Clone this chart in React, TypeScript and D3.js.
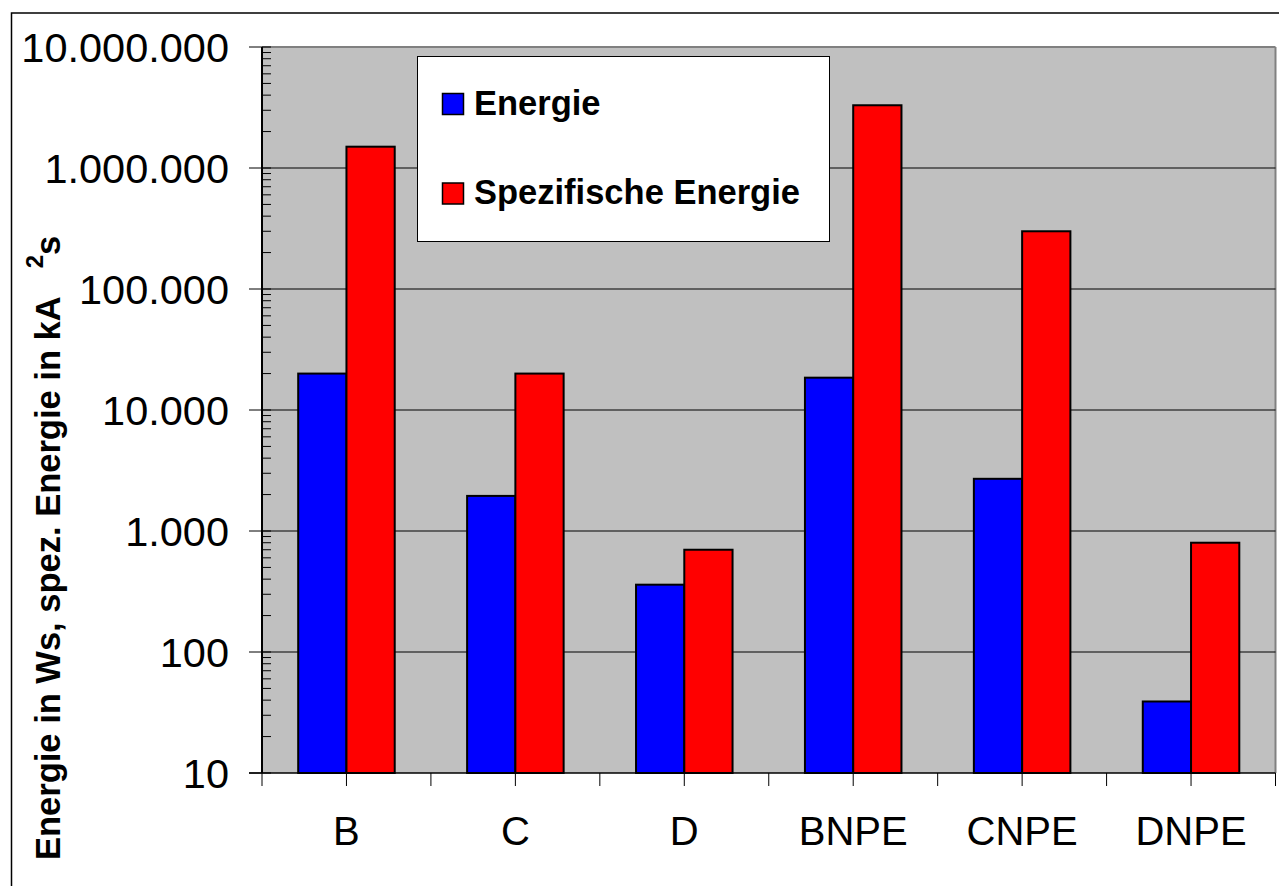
import React from "react";
import * as d3 from "d3";

const categories = ["B", "C", "D", "BNPE", "CNPE", "DNPE"];
const energie = [20000, 1950, 360, 18500, 2700, 39];
const spezEnergie = [1500000, 20000, 700, 3300000, 300000, 800];
const seriesNames = ["Energie", "Spezifische Energie"];
const seriesColors = ["#0000FF", "#FF0000"];
const yTicks = [10, 100, 1000, 10000, 100000, 1000000, 10000000];

const W = 1279;
const H = 886;
const plot = { left: 262, right: 1275.5, top: 47, bottom: 773 };

const de = d3.formatLocale({ decimal: ",", thousands: ".", grouping: [3], currency: ["", "€"] });
const fmt = de.format(",d");

export default function App() {
  const y = d3.scaleLog().domain([10, 1e7]).range([plot.bottom, plot.top]);
  const x = d3.scaleBand().domain(categories).range([plot.left, plot.right]).paddingInner(0).paddingOuter(0);
  const cw = x.bandwidth();
  const barW = cw / 3.5;
  const series = [energie, spezEnergie];

  const minor: number[] = [];
  for (let e = 1; e < 7; e++) {
    for (let k = 2; k <= 9; k++) minor.push(k * Math.pow(10, e));
  }
  const xTicks: number[] = [];
  for (let i = 0; i <= categories.length * 2; i++) xTicks.push(plot.left + (i * cw) / 2);

  const font = "Arial, 'Liberation Sans', sans-serif";

  return (
    <svg
      width={W}
      height={H}
      style={{ position: "fixed", left: 0, top: 0, background: "#fff" }}
      fontFamily={font}
    >
      <rect x={0} y={0} width={W} height={H} fill="#fff" />
      {/* outer frame */}
      <rect x={11.5} y={13} width={W + 20} height={H + 20} fill="none" stroke="#000" strokeWidth={1.5} />
      {/* plot area */}
      <rect
        x={plot.left}
        y={plot.top}
        width={plot.right - plot.left}
        height={plot.bottom - plot.top}
        fill="#C0C0C0"
      />
      <line x1={plot.left} x2={plot.right} y1={plot.top} y2={plot.top} stroke="#808080" strokeWidth={2} />
      <line x1={plot.right} x2={plot.right} y1={plot.top} y2={plot.bottom} stroke="#808080" strokeWidth={2} />
      {/* gridlines */}
      {yTicks.slice(1, -1).map((t) => (
        <line key={"g" + t} x1={plot.left} x2={plot.right} y1={y(t)} y2={y(t)} stroke="#000" strokeWidth={1} />
      ))}
      {/* bars */}
      {categories.map((c, i) =>
        series.map((s, j) => {
          const cx = (x(c) as number) + cw / 2;
          const bx = cx - barW + j * barW;
          const top = y(s[i]);
          return (
            <rect
              key={c + j}
              x={bx}
              y={top}
              width={barW}
              height={plot.bottom - top}
              fill={seriesColors[j]}
              stroke="#000"
              strokeWidth={2}
            />
          );
        })
      )}
      {/* y axis */}
      <line x1={plot.left} x2={plot.left} y1={plot.top} y2={plot.bottom} stroke="#000" strokeWidth={2} />
      {minor.map((t) => (
        <line key={"m" + t} x1={plot.left} x2={plot.left + 9} y1={y(t)} y2={y(t)} stroke="#000" strokeWidth={1} />
      ))}
      {yTicks.map((t) => (
        <g key={"t" + t}>
          <line x1={plot.left - 13} x2={plot.left + 9} y1={y(t)} y2={y(t)} stroke="#000" strokeWidth={1} />
          <text x={229} y={y(t)} dy="0.36em" textAnchor="end" fontSize={41.5} fill="#000">
            {fmt(t)}
          </text>
        </g>
      ))}
      {/* x axis */}
      <line x1={plot.left - 13} x2={plot.right} y1={plot.bottom} y2={plot.bottom} stroke="#000" strokeWidth={1.5} />
      {xTicks.map((tx, i) => (
        <line key={"xt" + i} x1={tx} x2={tx} y1={plot.bottom} y2={plot.bottom + 13} stroke="#000" strokeWidth={1} />
      ))}
      {categories.map((c) => (
        <text key={"c" + c} x={(x(c) as number) + cw / 2} y={845} textAnchor="middle" fontSize={40} fill="#000">
          {c}
        </text>
      ))}
      {/* y title */}
      <text transform="translate(60,860) rotate(-90)" fontSize={34.5} fontWeight="bold" fill="#000">
        Energie in Ws, spez. Energie in kA
        <tspan dx={28} dy={-17} fontSize={24}>2</tspan>
        <tspan dy={17}>s</tspan>
      </text>
      {/* legend */}
      <rect x={417.5} y={56.5} width={412} height={185} fill="#fff" stroke="#000" strokeWidth={1} />
      {seriesNames.map((n, j) => {
        const yy = j === 0 ? 93.5 : 183;
        return (
          <g key={"l" + n}>
            <rect x={442.5} y={yy} width={21} height={21} fill={seriesColors[j]} stroke="#000" strokeWidth={1.5} />
            <text x={474} y={yy + 21} fontSize={34.5} fontWeight="bold" fill="#000">
              {n}
            </text>
          </g>
        );
      })}
    </svg>
  );
}
